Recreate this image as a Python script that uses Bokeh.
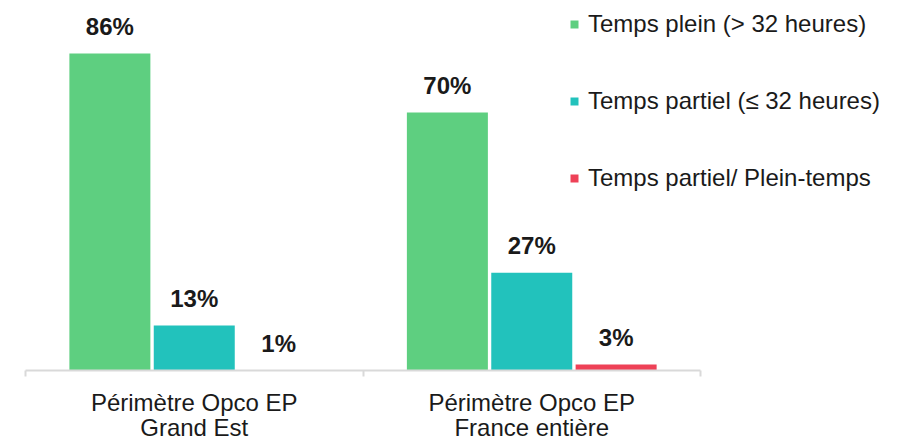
import numpy as np
from bokeh.plotting import figure
from bokeh.models import Range1d, FixedTicker, Label, Legend, LegendItem, ColumnDataSource, LinearAxis
from bokeh.core.properties import value
from bokeh.embed import file_html
from bokeh.resources import INLINE

categories = ["Périmètre Opco EP\nGrand Est", "Périmètre Opco EP\nFrance entière"]
series = ["Temps plein (> 32 heures)", "Temps partiel (≤ 32 heures)", "Temps partiel/ Plein-temps"]
colors = ["#5ECF80", "#22C2BC", "#EE4157"]
# bar heights (percent)
plein = [86, 70]
partiel = [12.2, 26.5]
mixte = [0, 1.6]
# printed labels
plein_lbl = ["86%", "70%"]
partiel_lbl = ["13%", "27%"]
mixte_lbl = ["1%", "3%"]

FONT = "Liberation Sans"
TXT = "#1a1a1a"

p = figure(width=916, height=441, output_backend="svg", toolbar_location=None,
           x_range=Range1d(-0.0741, 2.64), y_range=Range1d(-19.26, 100.38),
           x_axis_location=None, y_axis_location=None,
           min_border_left=0, min_border_right=0, min_border_top=0, min_border_bottom=0)
p.outline_line_color = None
p.grid.visible = False
p.background_fill_color = None

centers = np.arange(len(categories)) + 0.5
offsets = [-0.25, 0.0, 0.25]
renderers = []
for vals, lbls, off, col in zip([plein, partiel, mixte], [plein_lbl, partiel_lbl, mixte_lbl], offsets, colors):
    src = ColumnDataSource(dict(x=centers + off, top=vals, lbl=lbls))
    r = p.vbar(x="x", top="top", bottom=0, width=0.24, source=src, fill_color=col, line_color=None)
    renderers.append(r)
    p.text(x="x", y="top", text="lbl", source=src, text_align="center", text_baseline="middle",
           y_offset=-27, text_font=value(FONT), text_font_style="bold", text_font_size="24px",
           text_color=TXT)

ax = LinearAxis(fixed_location=0, bounds=(0, 2))
ax.ticker = FixedTicker(ticks=[0, 1, 2])
ax.major_label_overrides = {0: "", 1: "", 2: ""}
ax.major_label_text_font_size = "0px"
ax.major_label_standoff = 0
ax.axis_line_color = "#d9d9d9"
ax.axis_line_width = 2
ax.major_tick_line_color = "#d9d9d9"
ax.major_tick_line_width = 2
ax.major_tick_in = 0
ax.major_tick_out = 6
ax.minor_tick_line_color = None
p.add_layout(ax, "below")

for c, name in zip(centers, categories):
    for i, line in enumerate(name.split("\n")):
        p.add_layout(Label(x=c, y=-8.68 - 6.78 * i, text=line, text_align="center", text_baseline="middle",
                           text_font=FONT, text_font_size="24px", text_color=TXT))

legend = Legend(items=[LegendItem(label=s, renderers=[r]) for s, r in zip(series, renderers)],
                location=(569, 249), orientation="vertical",
                glyph_width=10, glyph_height=10, label_height=10, label_width=10,
                spacing=49, padding=0, margin=0, label_standoff=9,
                label_text_font=FONT, label_text_font_size="24px", label_text_color=TXT,
                border_line_alpha=0, background_fill_alpha=0)
p.add_layout(legend)

open("out.html", "w").write(file_html(p, INLINE))
